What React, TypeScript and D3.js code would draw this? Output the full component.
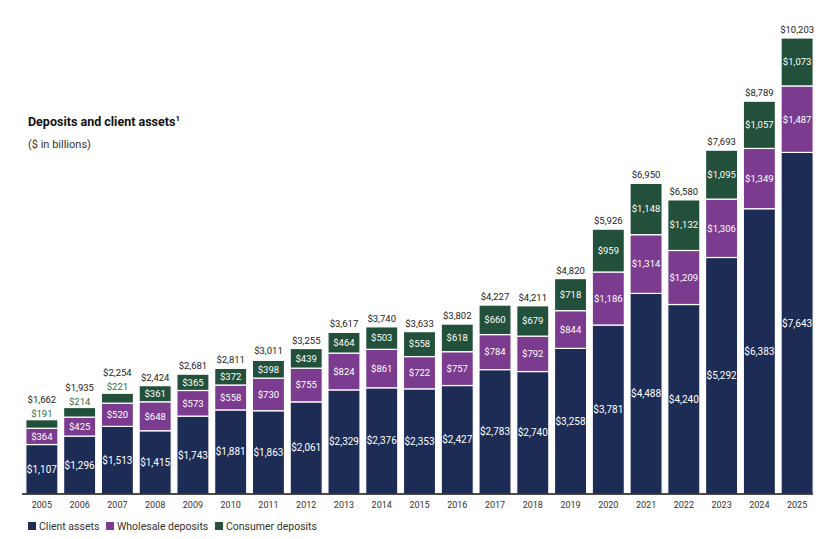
// Deposits and client assets - stacked bar chart with D3 scales

import * as d3 from "d3";

const years = ["2005","2006","2007","2008","2009","2010","2011","2012","2013","2014","2015","2016","2017","2018","2019","2020","2021","2022","2023","2024","2025"];
const clientAssets = [1107,1296,1513,1415,1743,1881,1863,2061,2329,2376,2353,2427,2783,2740,3258,3781,4488,4240,5292,6383,7643];
const wholesaleDeposits = [364,425,520,648,573,558,730,755,824,861,722,757,784,792,844,1186,1314,1209,1306,1349,1487];
const consumerDeposits = [191,214,221,361,365,372,398,439,464,503,558,618,660,679,718,959,1148,1132,1095,1057,1073];
const totals = [1662,1935,2254,2424,2681,2811,3011,3255,3617,3740,3633,3802,4227,4211,4820,5926,6950,6580,7693,8789,10203];

const seriesNames = ["Client assets", "Wholesale deposits", "Consumer deposits"];
const colors = ["#1d2c55", "#7b3c8f", "#23503a"];

const W = 828;
const H = 539;
const baseY = 494;
const FONT = "Roboto, 'Noto Sans', Arial, sans-serif";

const fmt = (v: number) => "$" + d3.format(",")(v);

export default function App() {
  const x = d3.scaleBand<string>().domain(years).range([23, 816]).paddingInner(0.15).paddingOuter(0.075);
  const y = d3.scaleLinear().domain([0, 10203]).range([baseY, 38]);

  const rows = years.map((yr, i) => ({
    year: yr,
    "Client assets": clientAssets[i],
    "Wholesale deposits": wholesaleDeposits[i],
    "Consumer deposits": consumerDeposits[i],
  }));
  const stack = d3.stack<any>().keys(seriesNames)(rows);
  const bw = x.bandwidth();

  return (
    <svg width={W} height={H} style={{ position: "absolute", left: 0, top: 0, background: "#fff" }} fontFamily={FONT}>
      <text x={28} y={126} fontSize={12.5} fontWeight={700} fill="#111">
        Deposits and client assets<tspan fontSize={8} dy={-5}>1</tspan>
      </text>
      <text x={28} y={148} fontSize={11} fill="#333">($ in billions)</text>

      {stack.map((layer, si) => (
        <g key={layer.key}>
          {layer.map((d, i) => {
            const x0 = x(years[i])!;
            const top = y(d[1]);
            const bot = y(d[0]);
            const h = bot - top;
            const value = d[1] - d[0];
            const inside = h > 13;
            return (
              <g key={i}>
                <rect x={x0} y={top} width={bw} height={h} fill={colors[si]} stroke="#fff" strokeWidth={1.2} />
                {inside ? (
                  <text x={x0 + bw / 2} y={(top + bot) / 2} dy="0.35em" textAnchor="middle" fontSize={si === 0 ? 10 : 9.5} fill="#fff">
                    {fmt(value)}
                  </text>
                ) : (
                  <text x={x0 + bw / 2} y={top - 3} textAnchor="middle" fontSize={9.5} fill="#2c6a44">
                    {fmt(value)}
                  </text>
                )}
              </g>
            );
          })}
        </g>
      ))}

      {totals.map((t, i) => {
        const smallTop = (y(totals[i] - consumerDeposits[i]) - y(totals[i])) <= 13;
        return (
          <text key={i} x={x(years[i])! + bw / 2} y={y(t) - (smallTop ? 17 : 5)} textAnchor="middle" fontSize={9.5} fill="#222">
            {fmt(t)}
          </text>
        );
      })}

      <line x1={22} x2={813} y1={baseY} y2={baseY} stroke="#111" strokeWidth={1.5} />

      {years.map((yr) => (
        <text key={yr} x={x(yr)! + bw / 2} y={508} textAnchor="middle" fontSize={9} fill="#333">{yr}</text>
      ))}

      {seriesNames.map((name, i) => {
        const lx = [28, 106, 215][i];
        return (
          <g key={name}>
            <rect x={lx} y={522} width={8} height={8} fill={colors[i]} />
            <text x={lx + 11} y={529.5} fontSize={10.5} fill="#333">{name}</text>
          </g>
        );
      })}
    </svg>
  );
}
